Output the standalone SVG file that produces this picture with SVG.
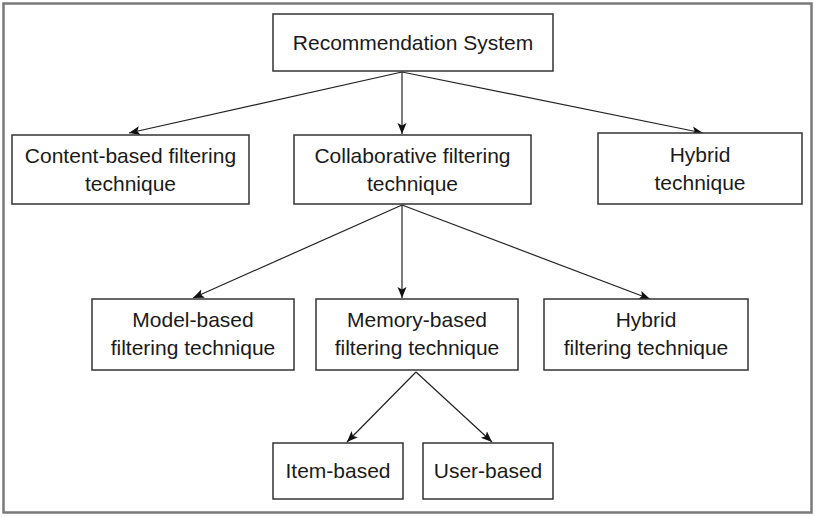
<svg xmlns="http://www.w3.org/2000/svg" width="815" height="517" viewBox="0 0 815 517">
<style>
.box{fill:#fff;stroke:#333;stroke-width:1.5}
.t{font-family:"Liberation Sans",Arial,sans-serif;font-size:21px;fill:#1a1a1a;text-anchor:middle}
.c{stroke:#222;stroke-width:1.2;fill:none;marker-end:url(#ah)}
</style>
<defs>
<marker id="ah" markerUnits="userSpaceOnUse" markerWidth="12" markerHeight="10" refX="11" refY="4.5" orient="auto">
<path d="M0,0 L11,4.5 L0,9 L2.5,4.5 z" fill="#111"/>
</marker>
</defs>
<rect x="3.5" y="3.5" width="808" height="509" fill="#fff" stroke="#7a7a7a" stroke-width="2.5"/>
<g id="connectors">
<line class="c" x1="402" y1="72" x2="129" y2="133"/>
<line class="c" x1="402" y1="72" x2="402" y2="134"/>
<line class="c" x1="402" y1="72" x2="703" y2="133"/>
<line class="c" x1="402" y1="205" x2="193" y2="298"/>
<line class="c" x1="402" y1="205" x2="402" y2="298"/>
<line class="c" x1="402" y1="205" x2="650" y2="299"/>
<line class="c" x1="416" y1="372" x2="347" y2="442"/>
<line class="c" x1="416" y1="372" x2="492" y2="442"/>
</g>
<g id="rec">
<rect class="box" x="273" y="14" width="280" height="57"/>
<text class="t" x="413" y="50">Recommendation System</text>
</g>
<g id="content">
<rect class="box" x="12" y="135" width="237" height="69"/>
<text class="t" x="130.5" y="163">Content-based filtering</text>
<text class="t" x="130.5" y="191">technique</text>
</g>
<g id="collab">
<rect class="box" x="294" y="135" width="237" height="69"/>
<text class="t" x="412.5" y="163">Collaborative filtering</text>
<text class="t" x="412.5" y="191">technique</text>
</g>
<g id="hybrid">
<rect class="box" x="598" y="133" width="204" height="71"/>
<text class="t" x="700" y="162">Hybrid</text>
<text class="t" x="700" y="190">technique</text>
</g>
<g id="model">
<rect class="box" x="92" y="299" width="202" height="71"/>
<text class="t" x="193" y="327">Model-based</text>
<text class="t" x="193" y="355">filtering technique</text>
</g>
<g id="memory">
<rect class="box" x="316" y="299" width="202" height="71"/>
<text class="t" x="417" y="327">Memory-based</text>
<text class="t" x="417" y="355">filtering technique</text>
</g>
<g id="hybridfilter">
<rect class="box" x="544" y="299" width="204" height="71"/>
<text class="t" x="646" y="327">Hybrid</text>
<text class="t" x="646" y="355">filtering technique</text>
</g>
<g id="item">
<rect class="box" x="273" y="443" width="130" height="56"/>
<text class="t" x="338" y="478">Item-based</text>
</g>
<g id="user">
<rect class="box" x="423" y="443" width="130" height="56"/>
<text class="t" x="488" y="478">User-based</text>
</g>
</svg>
